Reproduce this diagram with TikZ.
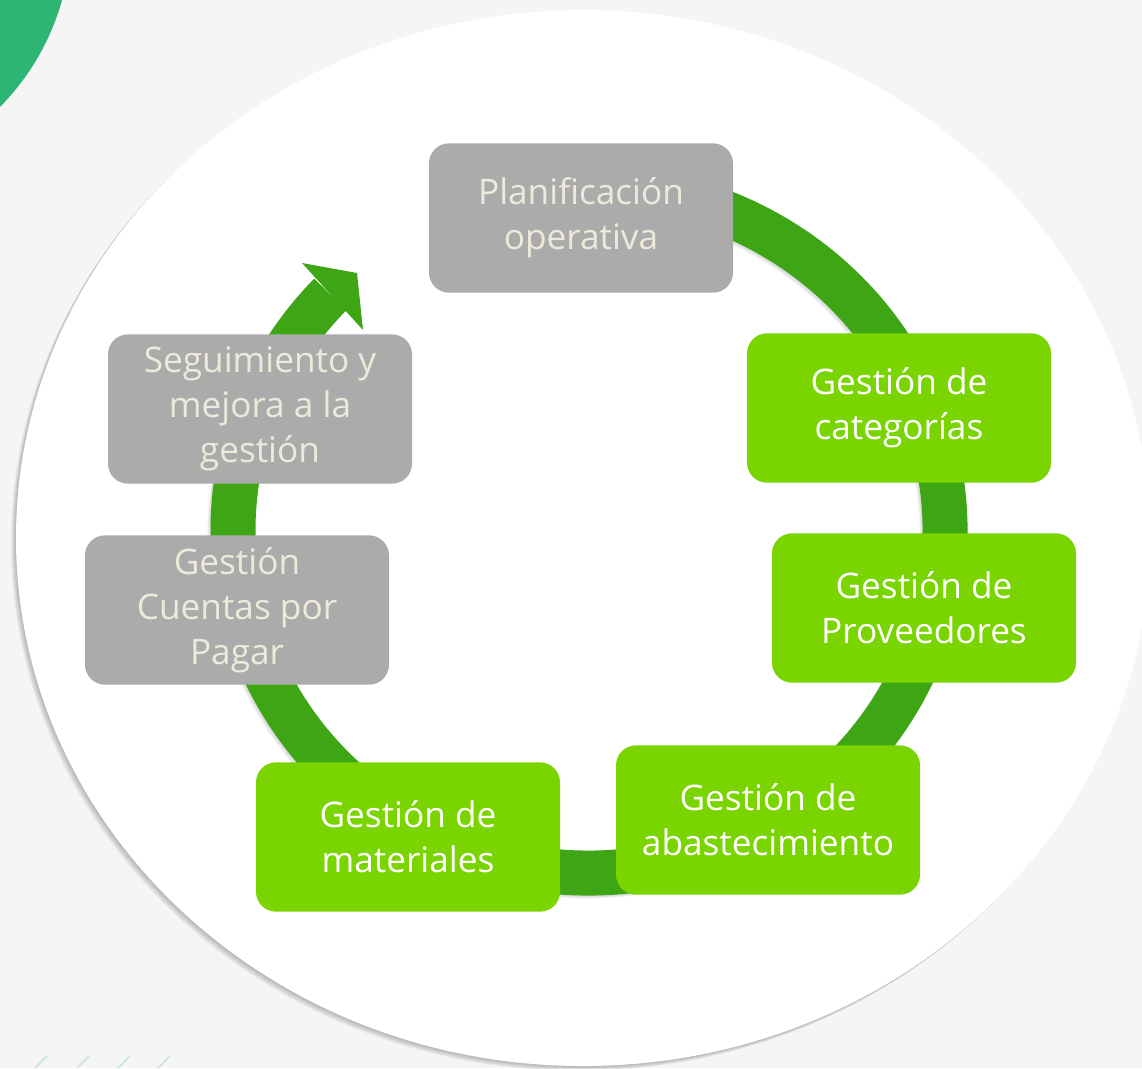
\documentclass[tikz,border=0pt]{standalone}
\usepackage{fontspec}
\setmainfont{Open Sans}
\definecolor{bgpaper}{HTML}{F5F5F5}
\definecolor{leafgreen}{HTML}{2DB574}
\definecolor{ringgreen}{HTML}{3EA514}
\definecolor{stepgreen}{HTML}{7AD400}
\definecolor{stepgray}{HTML}{ABABAB}
\definecolor{graytext}{HTML}{EEEADB}
\definecolor{markgreen}{HTML}{C8E8D0}

\begin{document}
\begin{tikzpicture}[x=0.75pt, y=-0.75pt,
    stepbox/.style={rectangle, rounded corners=15pt, minimum width=228pt,
      minimum height=112pt, align=center, inner sep=2pt,
      font=\fontsize{26.4}{33.75}\selectfont},
    greenbox/.style={stepbox, fill=stepgreen, text=white},
    graybox/.style={stepbox, fill=stepgray, text=graytext}]
    % Page
    \useasboundingbox (0,0) rectangle (1142,1068);
    \clip (0,0) rectangle (1142,1068);
    \fill[bgpaper] (0,0) rectangle (1142,1068);
    \fill[leafgreen] (-175,-66) circle [radius=246];
    \foreach \xa in {35,77,118,158}
      \draw[markgreen, line width=1.2pt] (\xa,1068) -- ++(12,-12);

    % White disc with soft shadow
    \foreach \i in {1,...,5}
      \fill[black, opacity=0.05] (583-\i,538+\i) ellipse [x radius=567, y radius=528];
    \fill[white] (583,538) ellipse [x radius=567, y radius=528];

    % Cycle ring
    \coordinate (ringstart) at (527.2,192.2);
    \foreach \i in {1,...,3}
      \draw[black, opacity=0.05, line width=33.75pt]
        ([shift={(-\i,\i)}]ringstart)
        arc [start angle=-100, end angle=223.4, x radius=356, y radius=343];
    \draw[ringgreen, line width=33.75pt] (ringstart)
      arc [start angle=-100, end angle=223.4, x radius=356, y radius=343];
    \fill[ringgreen] (302,263) -- (357,273) -- (363,330) -- cycle;

    % Steps
    \node[graybox] (plan) at (581,218) {Planificación\\operativa};
    \node[greenbox] (categ) at (899,408) {Gestión de\\categorías};
    \node[greenbox] (prov) at (924,608) {Gestión de\\Proveedores};
    \node[greenbox] (abast) at (768,820) {Gestión de\\abastecimiento};
    \node[greenbox] (mater) at (408,837) {Gestión de\\materiales};
    \node[graybox] (cuentas) at (237,610) {Gestión\\Cuentas por\\Pagar};
    \node[graybox] (seguim) at (260,409) {Seguimiento y\\mejora a la\\gestión};
  \end{tikzpicture}
\end{document}
